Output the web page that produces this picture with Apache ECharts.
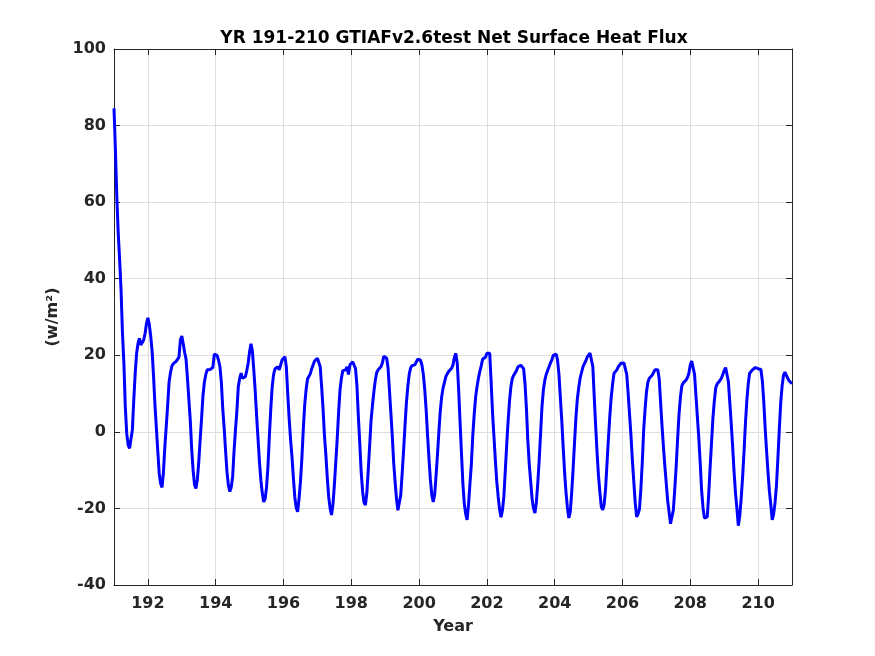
<!DOCTYPE html>
<html>
<head>
<meta charset="utf-8">
<script src="https://cdn.jsdelivr.net/npm/echarts@6/dist/echarts.min.js"></script>
<style>
  html, body { margin: 0; padding: 0; background: #fff; }
  #main { width: 875px; height: 656px; }
</style>
</head>
<body>
<div id="main"></div>
<script>
// net surface heat flux (w/m^2), 24 samples per model year
var yr191 = [84.5, 73.6, 61.4, 51.8, 44.9, 37, 25.7, 17.9, 6.6, -0.4, -3.4, -4.3, -4, 0.5, 8.3, 15.3, 20.5, 23.1, 24.4, 22.7, 22.2, 24, 25.7, 28.3];
var yr192 = [29.8, 28, 25, 21, 14.5, 7, 1, -5, -10.8, -13.5, -14.5, -10.5, -3.9, 1.5, 7, 13, 15.5, 17.2, 17.8, 18.3, 18.4, 18.5, 19.5, 24];
var yr193 = [25, 23, 20.8, 19, 14, 8.5, 3, -4.5, -10, -13.8, -14.8, -12.5, -8, -2, 3.5, 9.5, 13, 15, 16.2, 16.5, 16.3, 16.2, 16.8, 20.3];
var yr194 = [20.5, 20, 18.7, 17, 13, 6, 1, -5, -10.5, -14, -15.6, -14.5, -11.7, -5, 0.5, 5.5, 11.8, 14, 15.3, 14, 13.5, 14.4, 16, 18];
var yr195 = [21, 23, 21, 16, 10.5, 4, -2, -8, -12.7, -16, -18.3, -17.5, -14.5, -9, -1, 6, 11.8, 15, 16.5, 17, 17, 16.2, 17.5, 18.8];
var yr196 = [19.3, 19.6, 17, 10, 3.5, -2, -6.5, -12, -17, -19.8, -20.9, -17.5, -13, -7, 0.5, 7, 11, 13.8, 14.5, 15.2, 16.5, 17.5, 18.5, 19];
var yr197 = [19.2, 19.3, 17, 11.8, 6, -1, -6, -12, -17, -20, -21.7, -19, -14, -8, -2, 5, 10.9, 14, 16, 16.5, 16.2, 17, 15, 17.5];
var yr198 = [18, 18.3, 18, 16.5, 12, 4, -3, -10.5, -15.5, -18.5, -19.1, -16, -10, -3.5, 3, 7, 10.5, 13.5, 15.5, 16.2, 16.5, 17, 18, 19.7];
var yr199 = [20, 19.3, 16.8, 11, 5, -1, -8, -13, -17.5, -20.5, -20.8, -16.5, -11, -5, 1.5, 7.5, 11.8, 15, 16.7, 17.3, 17.8, 17.5, 17.5, 19];
var yr200 = [19.2, 18.7, 17.5, 15, 11, 5.7, -1, -7, -12.5, -16.5, -18.3, -16.5, -11.5, -6, 0, 5.5, 9.2, 11.5, 13, 14.5, 15.2, 15.8, 16.3, 16.6];
var yr201 = [17.5, 19.5, 20.5, 18, 11, 2.5, -5.6, -13.5, -18.8, -21.5, -23, -19, -13.5, -8.5, -1, 4.5, 9, 11.8, 14, 15.8, 17.3, 19, 19.5, 19.5];
var yr202 = [20.5, 20, 20.5, 13, 5, -1.3, -7.5, -13, -17, -20.3, -22.3, -20.5, -17, -10.3, -3.5, 2.7, 8, 11.8, 14, 14.8, 15.4, 16, 17, 17.4];
var yr203 = [17.4, 17.2, 16.5, 12.5, 6, -2.5, -8.5, -13, -17.5, -20, -21.2, -18.5, -13.5, -7.5, -0.5, 6.6, 11, 13.5, 15, 16, 17, 18, 18.8, 20];
var yr204 = [20.5, 20.3, 18.8, 15, 9, 3, -4, -10.5, -15.8, -19.8, -22.5, -21, -16, -10, -3, 3.5, 8.5, 11.5, 14, 15.5, 17, 17.8, 18.5, 19.5];
var yr205 = [20, 20.6, 20.8, 17, 9, 1.5, -5.5, -11.5, -15.8, -19.6, -20.4, -19, -15, -8.5, -2, 4, 9, 12.5, 15.3, 15.7, 16.2, 17, 17.4, 17.9];
var yr206 = [17.9, 18, 17.9, 15, 10, 4.5, -1, -7.5, -13, -18.5, -22.2, -21.5, -20.2, -15, -8, 0.5, 6, 10.5, 13, 14, 14.4, 14.8, 15.3, 16.2];
var yr207 = [16.6, 16.2, 13.8, 7.5, 1.5, -4, -9, -13.5, -18, -21, -24, -23.5, -20.4, -15, -9, -2, 4.5, 9, 12, 12.8, 13.2, 13.5, 14.2, 15.3];
var yr208 = [17.5, 18.5, 18.5, 15, 9.5, 4, -1.5, -8, -15.2, -19.8, -22.5, -22.8, -22.2, -16.5, -9.5, -3, 3.5, 8, 11.5, 12.5, 13, 13.4, 14, 15];
var yr209 = [16, 16.8, 16.5, 13, 7.5, 2, -4, -10.5, -16, -20, -24.5, -22, -17.5, -12, -5.5, 2, 8, 12.5, 15.3, 15.8, 16.2, 16.6, 16.8, 17];
var yr210 = [16.5, 16.2, 16.3, 13.3, 8, 1, -5, -10.5, -15.5, -19, -23, -21.5, -18.5, -14, -7, 0.5, 7.5, 12, 14.8, 15.6, 15.2, 14, 13.3, 12.8];
var yr211 = [12.6];

var firstYear = 191;
var samplesPerYear = 24;
var yearTicks = [192, 194, 196, 198, 200, 202, 204, 206, 208, 210];

var years = [yr191, yr192, yr193, yr194, yr195, yr196, yr197, yr198, yr199, yr200,
             yr201, yr202, yr203, yr204, yr205, yr206, yr207, yr208, yr209, yr210, yr211];

var lineData = [];
years.forEach(function (vals, i) {
  vals.forEach(function (v, k) {
    lineData.push([firstYear + i + k / samplesPerYear, v]);
  });
});

var myChart = echarts.init(document.getElementById('main'));

var axisColor = '#262626';
var gridColor = '#dedede';
var font = 'DejaVu Sans';

var option = {
  backgroundColor: '#fff',
  animation: false,
  title: {
    text: 'YR 191-210 GTIAFv2.6test Net Surface Heat Flux',
    left: 449,
    top: 25,
    textAlign: 'center',
    textStyle: { fontFamily: font, fontSize: 17, fontWeight: 'bold', color: '#000' }
  },
  grid: { left: 114, right: 83, top: 49, bottom: 71 },
  xAxis: [
    {
      type: 'value',
      min: 191,
      max: 211,
      name: 'Year',
      nameLocation: 'middle',
      nameGap: 34,
      nameTextStyle: { fontFamily: font, fontSize: 16, fontWeight: 'bold', color: axisColor },
      axisLine: { onZero: false, lineStyle: { color: axisColor, width: 1 } },
      axisTick: { inside: true, length: 6, customValues: yearTicks, lineStyle: { color: axisColor } },
      axisLabel: { customValues: yearTicks, margin: 11, fontFamily: font, fontSize: 16, fontWeight: 'bold', color: axisColor },
      splitLine: { show: true, lineStyle: { color: gridColor, width: 1 } }
    },
    {
      type: 'value',
      position: 'top',
      min: 191,
      max: 211,
      axisLine: { show: true, onZero: false, lineStyle: { color: axisColor, width: 1 } },
      axisTick: { inside: true, length: 6, customValues: yearTicks, lineStyle: { color: axisColor } },
      axisLabel: { show: false },
      splitLine: { show: false }
    }
  ],
  yAxis: [
    {
      type: 'value',
      min: -40,
      max: 100,
      interval: 20,
      name: '(w/m²)',
      nameLocation: 'middle',
      nameGap: 53,
      nameTextStyle: { fontFamily: font, fontSize: 16, fontWeight: 'bold', color: axisColor },
      axisLine: { show: true, onZero: false, lineStyle: { color: axisColor, width: 1 } },
      axisTick: { show: true, inside: true, length: 6, lineStyle: { color: axisColor } },
      axisLabel: { margin: 8, fontFamily: font, fontSize: 16, fontWeight: 'bold', color: axisColor },
      splitLine: { show: true, lineStyle: { color: gridColor, width: 1 } }
    },
    {
      type: 'value',
      position: 'right',
      min: -40,
      max: 100,
      interval: 20,
      axisLine: { show: true, onZero: false, lineStyle: { color: axisColor, width: 1 } },
      axisTick: { show: true, inside: true, length: 6, lineStyle: { color: axisColor } },
      axisLabel: { show: false },
      splitLine: { show: false }
    }
  ],
  series: [
    {
      name: 'Net Surface Heat Flux',
      type: 'line',
      data: lineData,
      showSymbol: false,
      symbol: 'none',
      lineStyle: { color: '#0000ff', width: 3 },
      z: 5
    }
  ]
};

myChart.setOption(option);
</script>
</body>
</html>
